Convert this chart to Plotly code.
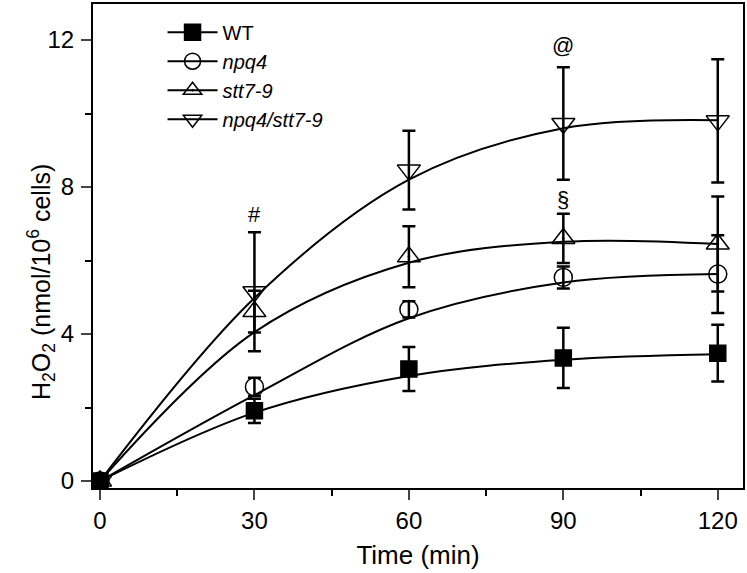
import plotly.graph_objects as go

time = [0, 30, 60, 90, 120]

series_names = ["WT", "<i>npq4</i>", "<i>stt7-9</i>", "<i>npq4/stt7-9</i>"]

wt_mean = [0, 1.91, 3.05, 3.35, 3.48]
wt_err = [0, 0.33, 0.6, 0.82, 0.77]
wt_fit = [0, 1.86, 2.86, 3.30, 3.45]

npq4_mean = [0, 2.56, 4.67, 5.54, 5.63]
npq4_err = [0, 0.25, 0.22, 0.3, 1.06]
npq4_fit = [0, 2.34, 4.43, 5.40, 5.63]

stt7_mean = [0, 4.61, 6.10, 6.60, 6.45]
stt7_err = [0, 0.57, 0.83, 0.67, 1.29]
stt7_fit = [0, 4.05, 5.94, 6.51, 6.45]

dbl_mean = [0, 5.15, 8.46, 9.73, 9.80]
dbl_err = [0, 1.62, 1.07, 1.53, 1.68]
dbl_fit = [0, 4.98, 8.20, 9.60, 9.82]

sig_labels = ["#", "§", "@"]
sig_x = [30, 90, 90]
sig_y = [7.24, 7.65, 11.85]

y_ticks = [0, 4, 8, 12]
x_ticks = [0, 30, 60, 90, 120]

FONT = "Liberation Sans, Arial, sans-serif"

series = [
    (series_names[0], wt_mean, wt_err, wt_fit, "square", 16),
    (series_names[1], npq4_mean, npq4_err, npq4_fit, "circle-open", 18),
    (series_names[2], stt7_mean, stt7_err, stt7_fit, "triangle-up-open-dot", 20),
    (series_names[3], dbl_mean, dbl_err, dbl_fit, "triangle-down-open", 20),
]

fig = go.Figure()
for name, mean, err, fit, sym, sz in series:
    fig.add_trace(go.Scatter(
        x=time, y=fit, mode="lines", line=dict(color="black", width=2, shape="spline"),
        showlegend=False, hoverinfo="skip"))
for name, mean, err, fit, sym, sz in series:
    fig.add_trace(go.Scatter(
        x=time, y=mean, mode="markers",
        marker=dict(symbol=sym, size=sz, color="black", line=dict(color="black", width=1.5)),
        error_y=dict(type="data", array=err, visible=True, color="black", thickness=2.5, width=6.5),
        showlegend=False))
for name, mean, err, fit, sym, sz in series:
    fig.add_trace(go.Scatter(
        x=[None], y=[None], mode="lines+markers", name=name,
        line=dict(color="black", width=2),
        marker=dict(symbol=sym, size=sz, color="black", line=dict(color="black", width=1.5))))

for t, xv, yv in zip(sig_labels, sig_x, sig_y):
    fig.add_annotation(x=xv, y=yv, text=t, showarrow=False,
                       font=dict(size=22, color="black", family=FONT))

fig.add_annotation(xref="paper", yref="paper", x=-0.079, y=0.425, xanchor="center", yanchor="middle",
                   text="H<sub>2</sub>O<sub>2</sub> (nmol/10<sup>6</sup> cells)", textangle=-90,
                   showarrow=False, font=dict(size=25, color="black", family=FONT))

fig.update_layout(
    width=747, height=573,
    margin=dict(l=93, r=4, t=4, b=85),
    plot_bgcolor="white", paper_bgcolor="white",
    font=dict(family=FONT, size=24, color="black"),
    legend=dict(x=0.107, y=0.982, xanchor="left", yanchor="top", bgcolor="rgba(0,0,0,0)",
                font=dict(size=20), itemwidth=50, tracegroupgap=0),
    xaxis=dict(range=[-1.36, 124.9], tickvals=x_ticks, ticks="outside", ticklen=10, tickwidth=2,
               showgrid=False, zeroline=False, showline=True, linewidth=2, linecolor="black",
               mirror=True, automargin=False, ticklabelstandoff=0,
               minor=dict(dtick=15, tick0=0, ticks="outside", ticklen=6, tickwidth=2, tickcolor="black"),
               title=dict(text="Time (min)", font=dict(size=26), standoff=13)),
    yaxis=dict(range=[-0.19, 12.98], tickvals=y_ticks, ticks="outside", ticklen=10, tickwidth=2,
               showgrid=False, zeroline=False, showline=True, linewidth=2, linecolor="black",
               mirror=True, automargin=False, ticklabelstandoff=2,
               minor=dict(dtick=2, tick0=0, ticks="outside", ticklen=6, tickwidth=2, tickcolor="black")),
)

fig.write_html("out.html", config={"displayModeBar": False},
               post_script="document.body.style.margin='0';document.body.style.overflow='hidden';")
